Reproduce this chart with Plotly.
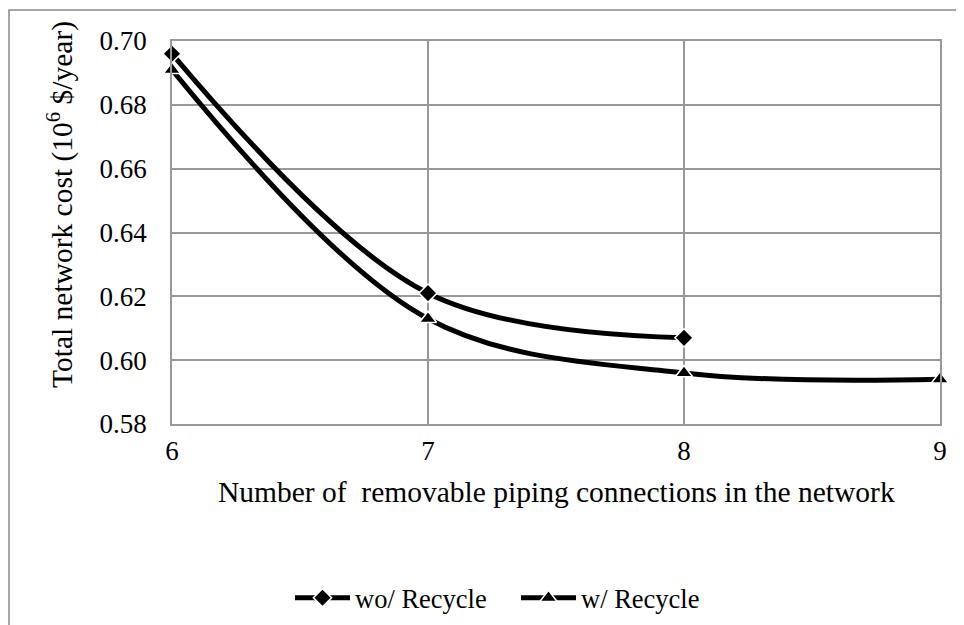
import plotly.graph_objects as go

x_wo = [6, 7, 8]
y_wo = [0.696, 0.621, 0.607]
x_w = [6, 7, 8, 9]
y_w = [0.691, 0.613, 0.596, 0.594]

y_ticks = [0.58, 0.60, 0.62, 0.64, 0.66, 0.68, 0.70]
x_ticks = [6, 7, 8, 9]

FONT = "Times New Roman, Liberation Serif, DejaVu Serif, serif"
OFF = 8  # page body margin
W, H = 964 - OFF, 625 - OFF
PL, PR, PT, PB = 172, 940, 41, 424  # plot area in screen pixels
L, T = PL - OFF, PT - OFF
pw, ph = PR - PL, PB - PT
R, B = W - L - pw, H - T - ph


def px(sx):
    return (sx - PL) / pw


def py(sy):
    return (PB - sy) / ph


fig = go.Figure()
fig.add_trace(go.Scatter(
    x=x_wo, y=y_wo, name="wo/ Recycle", mode="lines+markers", cliponaxis=False,
    line=dict(color="black", width=5, shape="spline", smoothing=1.0),
    marker=dict(symbol="diamond", size=14, color="black", line=dict(color="white", width=1.5)),
))
fig.add_trace(go.Scatter(
    x=x_w, y=y_w, name="w/ Recycle", mode="lines+markers", cliponaxis=False,
    line=dict(color="black", width=5, shape="spline", smoothing=1.0),
    marker=dict(symbol="triangle-up", size=15, color="black", line=dict(color="white", width=1.5)),
))

axis_common = dict(showgrid=True, gridcolor="#999999", gridwidth=1.5,
                   showline=True, linecolor="#999999", linewidth=1.5, mirror=True,
                   zeroline=False, ticks="", automargin=False,
                   tickfont=dict(family=FONT, size=27, color="black"))

fig.update_xaxes(range=[6, 9], tickvals=x_ticks, ticktext=[str(v) for v in x_ticks],
                 ticklabelstandoff=2, **axis_common)
fig.update_yaxes(range=[0.58, 0.70], tickvals=y_ticks, ticktext=[f"{v:.2f}" for v in y_ticks],
                 ticklabelstandoff=18, **axis_common)

# outer chart border
fig.add_shape(type="rect", xref="paper", yref="paper",
              x0=px(9), x1=px(990), y0=py(660), y1=py(10),
              line=dict(color="#888888", width=1.5), layer="below")

fig.add_annotation(text="Number of  removable piping connections in the network",
                   xref="paper", yref="paper", x=px(556), y=py(492),
                   showarrow=False, font=dict(family=FONT, size=29.5, color="black"),
                   xanchor="center", yanchor="middle")
fig.add_annotation(text="Total network cost (10<sup>6</sup> $/year)",
                   xref="paper", yref="paper", x=px(60), y=py(205),
                   showarrow=False, textangle=-90, font=dict(family=FONT, size=29.5, color="black"),
                   xanchor="center", yanchor="middle")

fig.update_layout(
    width=W, height=H,
    margin=dict(l=L, r=R, t=T, b=B, autoexpand=False),
    paper_bgcolor="white", plot_bgcolor="white",
    showlegend=True,
    legend=dict(orientation="h", x=px(290), xanchor="left",
                y=py(598), yanchor="middle",
                font=dict(family=FONT, size=26.5, color="black"),
                entrywidth=156, entrywidthmode="pixels",
                itemwidth=55, bgcolor="rgba(0,0,0,0)"),
)

fig.write_html("out.html")
